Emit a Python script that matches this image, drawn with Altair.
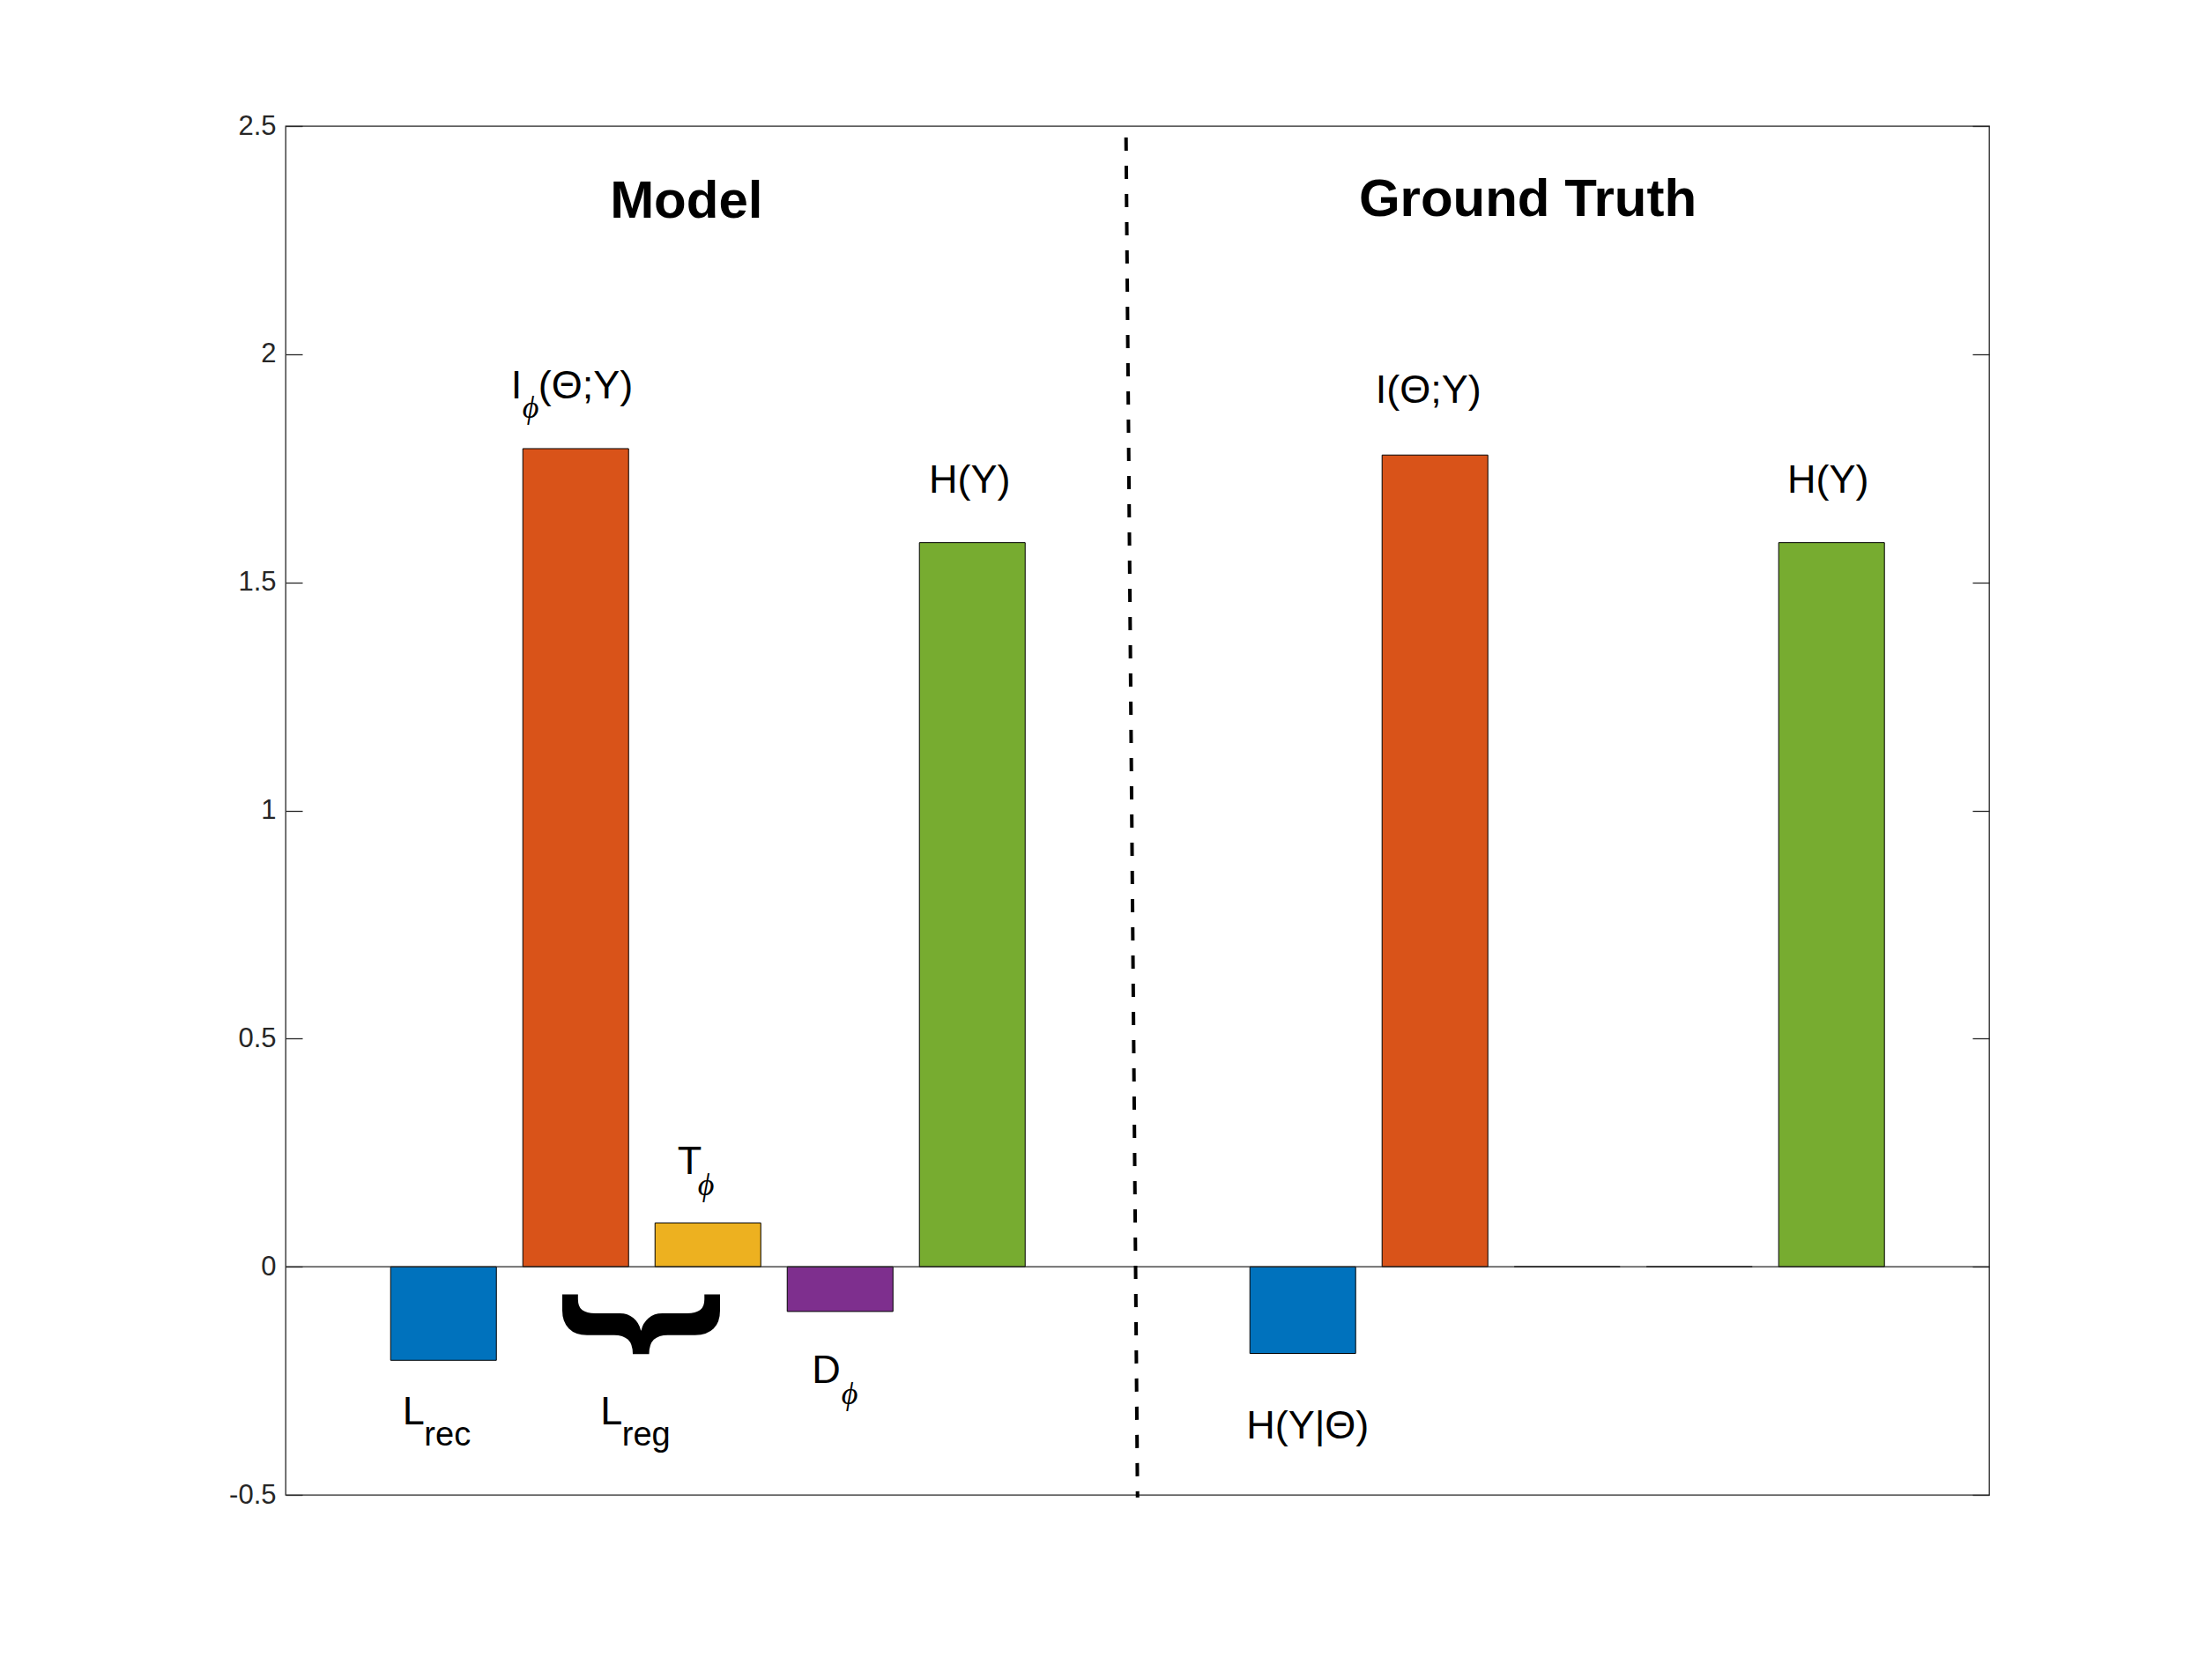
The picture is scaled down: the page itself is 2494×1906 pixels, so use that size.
import altair as alt
import pandas as pd

# ---------------- data ----------------
groups = ["Model"] * 5 + ["Ground Truth"] * 5
components = ["rec", "info", "T", "D", "H"] * 2
positions = [1, 2, 3, 4, 5, 7.5, 8.5, 9.5, 10.5, 11.5]
values = [-0.205, 1.793, 0.096, -0.098, 1.587, -0.190, 1.779, 0.0, 0.0, 1.587]
component_order = ["rec", "info", "T", "D", "H"]
palette = ["#0072BD", "#D95319", "#EDB120", "#7E2F8E", "#77AC30"]
y_ticks = [-0.5, 0, 0.5, 1, 1.5, 2, 2.5]

bars_df = pd.DataFrame({"group": groups, "comp": components, "pos": positions, "value": values})

# annotation texts (anchored in data units)
title_text = ["Model", "Ground Truth"]
title_x = [2.837, 9.202]
title_y = [2.299, 2.303]

main_left_text = ["I", "(Θ;Y)", "T", "D", "L", "L"]
main_left_x = [1.510, 1.717, 2.770, 3.787, 0.690, 2.187]
main_left_y = [1.903, 1.903, 0.203, -0.254, -0.346, -0.346]

main_center_text = ["H(Y)", "I(Θ;Y)", "H(Y)", "H(Y|Θ)"]
main_center_x = [4.98, 8.45, 11.473, 7.537]
main_center_y = [1.696, 1.893, 1.696, -0.376]

sub_text = ["rec", "reg"]
sub_x = [0.854, 2.350]
sub_y = [-0.392, -0.392]

phi_text = ["ϕ", "ϕ", "ϕ"]
phi_x = [1.597, 2.923, 4.010]
phi_y = [1.861, 0.156, -0.301]

brace_text = ["}"]
brace_x = [2.555]
brace_y = [-0.125]

divider = pd.DataFrame({"x": [6.163], "x2": [6.25], "y": [2.475], "y2": [-0.506]})

# ---------------- scales ----------------
XD = [-0.195, 12.692]
YD = [-0.5, 2.5]
xs = alt.Scale(domain=XD, nice=False, zero=False)
AX = "#262626"
FONT = "Liberation Sans"


def ys():
    return alt.Scale(domain=YD, nice=False, zero=False)


left_axis = alt.Axis(
    orient="left", values=y_ticks, offset=-19, tickSize=19, tickWidth=1.3,
    tickColor=AX, domain=False, grid=False, labelFont=FONT, labelFontSize=31,
    labelColor=AX, labelPadding=11, labelExpr="'' + datum.value", title=None,
)
right_axis = alt.Axis(
    orient="right", values=y_ticks, offset=-19, tickSize=19, tickWidth=1.3,
    tickColor=AX, domain=False, grid=False, labels=False, title=None,
)

bars = (
    alt.Chart(bars_df)
    .transform_calculate(x0="datum.pos - 0.4", x1="datum.pos + 0.4")
    .mark_bar(stroke="black", strokeWidth=1)
    .encode(
        x=alt.X("x0:Q", scale=xs, axis=None),
        x2="x1:Q",
        y=alt.Y("value:Q", scale=ys(), axis=left_axis),
        y2=alt.datum(0),
        color=alt.Color("comp:N", scale=alt.Scale(domain=component_order, range=palette), legend=None),
    )
)

zero_line = (
    alt.Chart(pd.DataFrame({"v": [0.0]}))
    .mark_rule(color=AX, strokeWidth=1.3)
    .encode(y=alt.Y("v:Q", scale=ys(), axis=right_axis))
)

div_line = (
    alt.Chart(divider)
    .mark_rule(color="black", strokeWidth=4, strokeDash=[15, 17])
    .encode(
        x=alt.X("x:Q", scale=xs, axis=None),
        x2="x2:Q",
        y=alt.Y("y:Q", scale=ys(), axis=None),
        y2="y2:Q",
    )
)


def text_layer(texts, xv, yv, **mark):
    df = pd.DataFrame({"t": texts, "x": xv, "y": yv})
    return (
        alt.Chart(df)
        .mark_text(**mark)
        .encode(
            x=alt.X("x:Q", scale=xs, axis=None),
            y=alt.Y("y:Q", scale=ys(), axis=None),
            text="t:N",
        )
    )


titles = text_layer(title_text, title_x, title_y, font=FONT, fontSize=60, fontWeight="bold",
                    align="center", baseline="alphabetic", color="black")
main_left = text_layer(main_left_text, main_left_x, main_left_y, font=FONT, fontSize=45,
                       align="left", baseline="alphabetic", color="black")
main_center = text_layer(main_center_text, main_center_x, main_center_y, font=FONT, fontSize=45,
                         align="center", baseline="alphabetic", color="black")
subs = text_layer(sub_text, sub_x, sub_y, font=FONT, fontSize=38,
                  align="left", baseline="alphabetic", color="black")
phis = text_layer(phi_text, phi_x, phi_y, font="Liberation Serif, DejaVu Serif", fontSize=36,
                  fontStyle="italic", align="left", baseline="alphabetic", color="black")
brace = text_layer(brace_text, brace_x, brace_y, font=FONT, fontSize=192, fontWeight="bold",
                   angle=90, align="center", baseline="middle", color="black")

chart = (
    alt.layer(bars, zero_line, div_line, titles, main_left, main_center, subs, phis, brace)
    .resolve_scale(y="independent")
    .resolve_axis(y="independent")
    .properties(
        width=1933,
        height=1553,
        autosize=alt.AutoSizeParams(type="none"),
        padding={"left": 316, "top": 135, "right": 220, "bottom": 200},
        background="white",
    )
    .configure_view(stroke=AX, strokeWidth=1.3)
)

chart.save("out.html", embed_options={"renderer": "svg", "actions": False})
